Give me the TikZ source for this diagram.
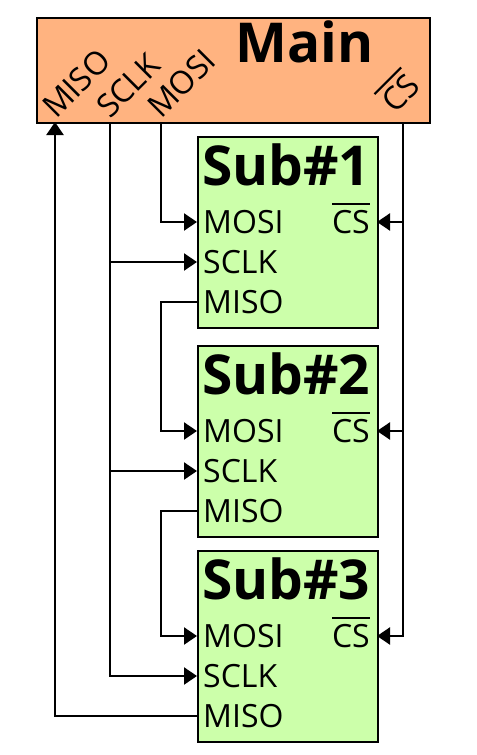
\documentclass[tikz,border=0pt]{standalone}
\usepackage{fontspec}
\setmainfont{Open Sans}
\usetikzlibrary{arrows.meta}

\definecolor{mainfill}{HTML}{FFB380}
\definecolor{subfill}{HTML}{CCFFAA}

% signal name with a bar over it
\newcommand{\barred}[1]{\vbox{\hrule height 2.2bp \kern 5bp \hbox{#1}}}

\tikzset{
	box/.style={draw, line width=2.2bp, inner sep=0, anchor=north west},
	wire/.style={line width=2.2bp},
	feed/.style={wire, -{Triangle[length=13bp,width=17bp]}},
	port/.style={font=\fontsize{32bp}{38bp}\selectfont, inner sep=0},
	title/.style={font=\fontsize{55bp}{62bp}\selectfont\bfseries, inner sep=0, anchor=base west}
}

\begin{document}
\begin{tikzpicture}[x=1bp,y=-1bp]
	\useasboundingbox (0,0) rectangle (477,755);
	% main device
	\node[box, fill=mainfill, minimum width=393bp, minimum height=105bp] (main) at (36,17) {};
	\node[title] (maintitle) at (235,63) {Main};
	\foreach \p/\x/\lx/\ly/\txt in {miso/55/56/120/MISO, sclk/110/110/120/SCLK, mosi/161/161/120/MOSI, cs/403/395/115/\barred{CS}} {
		\coordinate (m-\p) at (\x,122);
		\node[port, rotate=45, anchor=base west] (m-\p-label) at (\lx,\ly) {\txt};
	}
	% sub devices
	\foreach \n/\ytop in {1/136, 2/345, 3/550} {
		\node[box, fill=subfill, minimum width=180bp, minimum height=191bp] (sub\n) at (197,\ytop) {};
		\node[title] (sub\n-title) at (202,\ytop+49) {Sub\#\n};
		\coordinate (s\n-mosi) at (197,\ytop+86);
		\coordinate (s\n-sclk) at (197,\ytop+126);
		\coordinate (s\n-miso) at (197,\ytop+166);
		\coordinate (s\n-cs) at (377,\ytop+86);
		\node[port, anchor=base west] (s\n-mosi-label) at (203,\ytop+97) {MOSI};
		\node[port, anchor=base west] (s\n-sclk-label) at (203,\ytop+137) {SCLK};
		\node[port, anchor=base west] (s\n-miso-label) at (203,\ytop+177) {MISO};
		\node[port, anchor=base east] (s\n-cs-label) at (370,\ytop+97) {\barred{CS}};
	}
	% bus wires
	\draw[feed] (s3-miso) -| (m-miso);
	\draw[feed] (m-sclk) |- (s3-sclk);
	\draw[feed] (m-sclk |- s1-sclk) -- (s1-sclk);
	\draw[feed] (m-sclk |- s2-sclk) -- (s2-sclk);
	\draw[feed] (m-mosi) |- (s1-mosi);
	\draw[feed] (s1-miso) -- (s1-miso -| m-mosi) |- (s2-mosi);
	\draw[feed] (s2-miso) -- (s2-miso -| m-mosi) |- (s3-mosi);
	\draw[feed] (m-cs) |- (s3-cs);
	\draw[feed] (m-cs |- s1-cs) -- (s1-cs);
	\draw[feed] (m-cs |- s2-cs) -- (s2-cs);
\end{tikzpicture}
\end{document}
